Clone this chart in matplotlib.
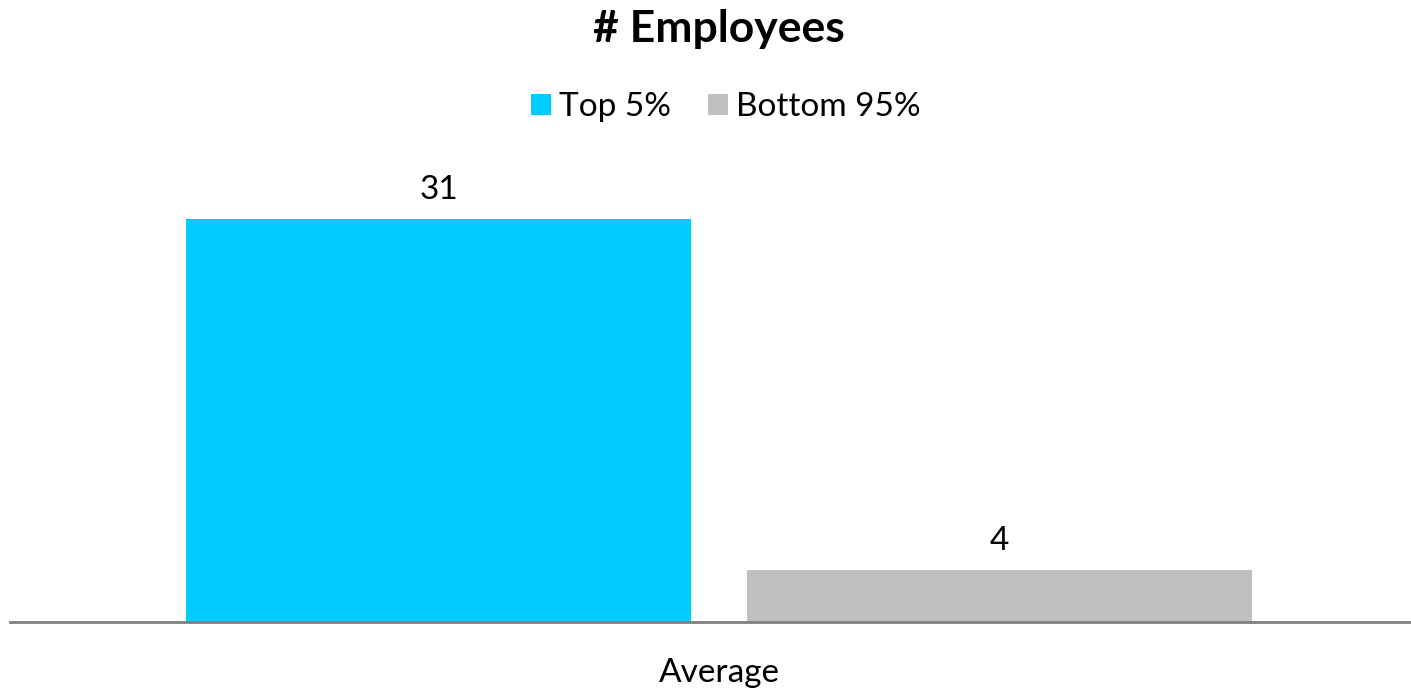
import matplotlib
matplotlib.use("Agg")
import matplotlib.pyplot as plt
from matplotlib.patches import Patch

# chart data
category = "Average"
series = ["Top 5%", "Bottom 95%"]
values = [31, 4]
colors = ["#00CCFF", "#BFBFBF"]

plt.rcParams['font.family'] = ['Lato', 'DejaVu Sans']

fig = plt.figure(figsize=(14.11, 6.9), dpi=100)
# axes placed so the baseline sits where the reference has it
ax = fig.add_axes([10 / 1411, 68 / 690, 1401 / 1411, 472 / 690])

bar_w = 505 / 1401
gap = 56 / 1401
offsets = [-(bar_w + gap) / 2, (bar_w + gap) / 2]

for off, v, c in zip(offsets, values, colors):
    ax.bar(off, v, width=bar_w, color=c, edgecolor="none")
    ax.annotate(str(v), (off, v), xytext=(0, 10), textcoords="offset points",
                ha="center", va="bottom", fontsize=24)

ax.set_xlim(-709 / 1401, 692 / 1401)
ax.set_ylim(0, 472 / 13)

for s in ["top", "right", "left"]:
    ax.spines[s].set_visible(False)
ax.spines["bottom"].set_color("#808080")
ax.spines["bottom"].set_linewidth(2)
ax.set_yticks([])
ax.set_xticks([0])
ax.set_xticklabels([category], fontsize=24)
ax.tick_params(axis="x", length=0, pad=26)

fig.text(719 / 1411, 1 - 29 / 690, "# Employees", ha="center", va="center",
         fontsize=32, fontweight="bold")

handles = [Patch(facecolor=c, edgecolor="none") for c in colors]
fig.legend(handles, series, loc="center", bbox_to_anchor=(726 / 1411, 1 - 107 / 690),
           ncol=2, frameon=False, fontsize=24, handlelength=0.6, handleheight=0.6,
           handletextpad=0.25, columnspacing=1.1)

fig.savefig("out.png", dpi=100)
